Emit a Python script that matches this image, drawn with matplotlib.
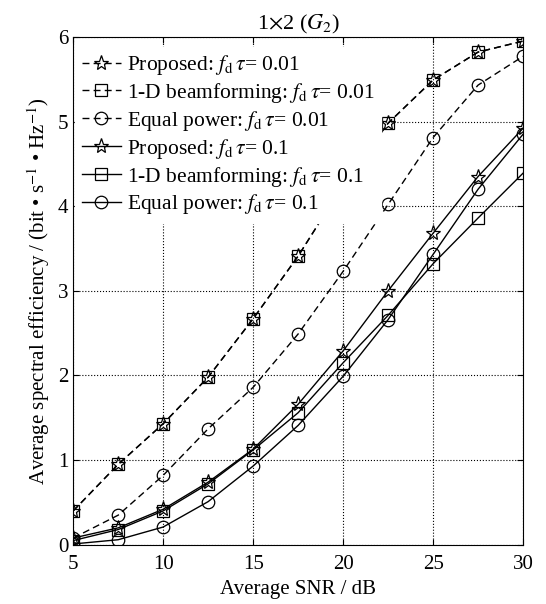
import matplotlib
matplotlib.use("Agg")
import matplotlib.pyplot as plt

plt.rcParams['font.family'] = ['Liberation Serif', 'DejaVu Serif']
plt.rcParams['mathtext.fontset'] = 'stix'

snr = [5, 7.5, 10, 12.5, 15, 17.5, 20, 22.5, 25, 27.5, 30]

prop_001 = [0.40, 0.95, 1.43, 1.98, 2.67, 3.41, 4.25, 4.98, 5.49, 5.82, 5.95]
beam_001 = [0.40, 0.95, 1.43, 1.98, 2.67, 3.41, 4.25, 4.98, 5.49, 5.82, 5.95]
eq_001 = [0.08, 0.35, 0.82, 1.37, 1.86, 2.49, 3.23, 4.02, 4.81, 5.43, 5.77]
prop_01 = [0.08, 0.20, 0.42, 0.74, 1.13, 1.66, 2.29, 3.00, 3.68, 4.35, 4.92]
beam_01 = [0.05, 0.18, 0.40, 0.72, 1.12, 1.56, 2.15, 2.71, 3.32, 3.86, 4.39]
eq_01 = [0.01, 0.06, 0.21, 0.51, 0.93, 1.41, 1.99, 2.66, 3.43, 4.20, 4.85]

fd = r"$f_\mathrm{d}\,\tau$"

fig = plt.figure(figsize=(5.46, 6.04), dpi=100)
ax = fig.add_axes([0.134, 0.098, 0.824, 0.841])

style = dict(color='black', lw=1.0, mfc='none', mec='black', mew=0.9)
dash = dict(dashes=(5, 3))
ax.plot(snr, prop_001, '--', marker='*', ms=11, label="Proposed: " + fd + "= 0.01", **dash, **style)
ax.plot(snr, beam_001, '--', marker='s', ms=9, label="1-D beamforming: " + fd + "= 0.01", **dash, **style)
ax.plot(snr, eq_001, '--', marker='o', ms=9, label="Equal power: " + fd + "= 0.01", **dash, **style)
ax.plot(snr, prop_01, '-', marker='*', ms=11, label="Proposed: " + fd + "= 0.1", **style)
ax.plot(snr, beam_01, '-', marker='s', ms=9, label="1-D beamforming: " + fd + "= 0.1", **style)
ax.plot(snr, eq_01, '-', marker='o', ms=9, label="Equal power: " + fd + "= 0.1", **style)

ax.set_xlim(5, 30)
ax.set_ylim(0, 6)
ax.set_xticks([5, 10, 15, 20, 25, 30])
ax.set_yticks([0, 1, 2, 3, 4, 5, 6])
ax.grid(True, linestyle=':', color='black', lw=0.8)
ax.tick_params(direction='in', top=True, right=True, labelsize=15, length=4)
ax.tick_params(axis='x', pad=7)

ax.set_title(r"1$\times$2 ($G_2$)", fontsize=16, pad=5)
ax.set_xlabel("Average SNR / dB", fontsize=15, labelpad=5)
ax.set_ylabel(r"Average spectral efficiency / (bit • s$^{-1}$ • Hz$^{-1}$)", fontsize=15)

leg = ax.legend(loc='upper left', bbox_to_anchor=(0, 0.985), fontsize=15.5,
                frameon=True, fancybox=False, edgecolor='white', framealpha=1,
                handlelength=1.8, labelspacing=0.18, borderaxespad=0.1,
                handletextpad=0.3, borderpad=0.3)
leg.set_zorder(5)

fig.savefig("out.png", dpi=100)
